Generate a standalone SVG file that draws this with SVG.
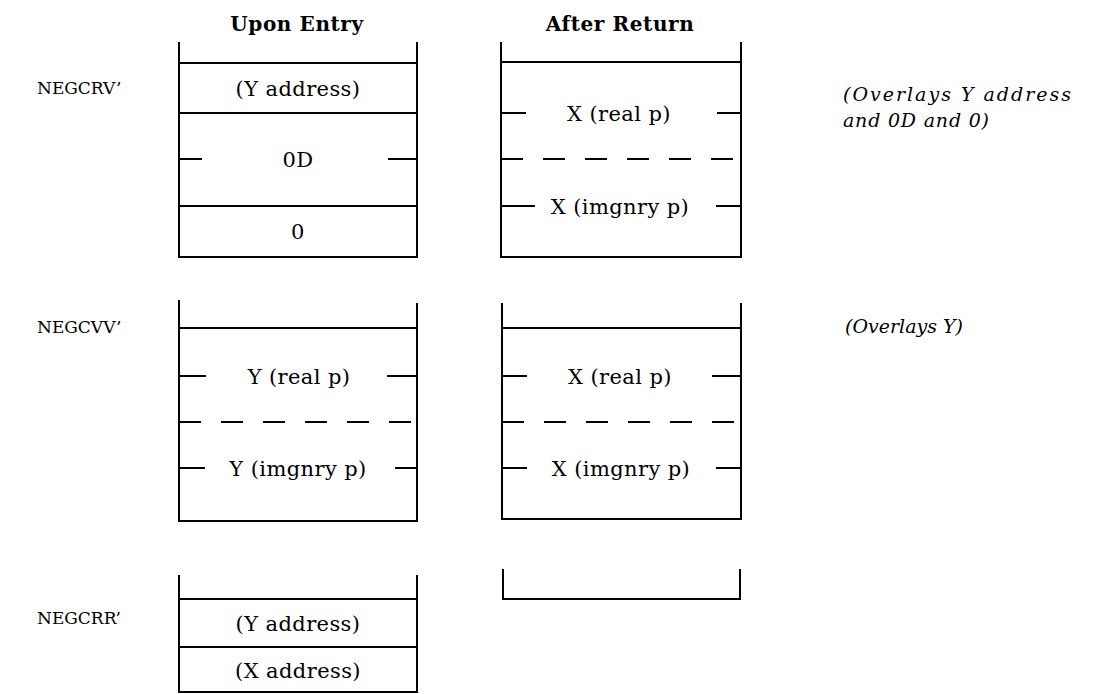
<svg xmlns="http://www.w3.org/2000/svg" width="1098" height="694" viewBox="0 0 1098 694">
<style>
.ln{stroke:#000;stroke-width:2;fill:none;stroke-linecap:butt}
.ds{stroke:#000;stroke-width:2;fill:none;stroke-dasharray:22 20}
.t{font-family:"DejaVu Serif","Liberation Serif",serif;font-size:21px;letter-spacing:0.4px;fill:#000;text-anchor:middle}
.h{font-family:"DejaVu Serif","Liberation Serif",serif;font-size:20px;font-weight:bold;letter-spacing:0.6px;fill:#000;text-anchor:middle}
.lb{font-family:"DejaVu Serif","Liberation Serif",serif;font-size:17px;fill:#000}
.it{font-family:"DejaVu Serif","Liberation Serif",serif;font-size:19px;font-style:italic;fill:#000}
</style>
<rect width="1098" height="694" fill="#fff"/>
<g id="headings">
<text class="h" x="297" y="31">Upon Entry</text>
<text class="h" x="620" y="31">After Return</text>
</g>
<g id="labels">
<text class="lb" x="37" y="94">NEGCRV’</text>
<text class="lb" x="37" y="333">NEGCVV’</text>
<text class="lb" x="37" y="624">NEGCRR’</text>
</g>
<g id="notes">
<text class="it" x="843" y="101" textLength="228" lengthAdjust="spacing">(Overlays Y address</text>
<text class="it" x="843" y="127" textLength="146" lengthAdjust="spacing">and 0D and 0)</text>
<text class="it" x="845" y="333">(Overlays Y)</text>
</g>
<g id="negcrv-entry">
<path class="ln" d="M179,42V258M417,42V258M179,63H417M179,113H417M179,206H417M179,257H417"/>
<path class="ln" d="M179,159H202M388,159H417"/>
<text class="t" x="298" y="96">(Y address)</text>
<text class="t" x="298" y="167">0D</text>
<text class="t" x="298" y="239">0</text>
</g>
<g id="negcrv-return">
<path class="ln" d="M501,42V258M741,42V258M501,62H741M501,257H741"/>
<path class="ds" d="M501,159H741"/>
<path class="ln" d="M501,113H526M717,113H741M501,206H535M716,206H741"/>
<text class="t" x="619" y="121">X (real p)</text>
<text class="t" x="620" y="214">X (imgnry p)</text>
</g>
<g id="negcvv-entry">
<path class="ln" d="M179,300V522M417,303V522M179,328H417M179,521H417"/>
<path class="ds" d="M179,422H417"/>
<path class="ln" d="M179,376H206M387,376H417M179,468H205M395,468H417"/>
<text class="t" x="299" y="384">Y (real p)</text>
<text class="t" x="298" y="476">Y (imgnry p)</text>
</g>
<g id="negcvv-return">
<path class="ln" d="M502,303V520M741,303V520M502,328H741M502,519H741"/>
<path class="ds" d="M502,422H741"/>
<path class="ln" d="M502,376H527M712,376H741M502,468H527M716,468H741"/>
<text class="t" x="620" y="384">X (real p)</text>
<text class="t" x="621" y="476">X (imgnry p)</text>
</g>
<g id="negcrr-return">
<path class="ln" d="M503,569V600M740,569V600M503,599H740"/>
</g>
<g id="negcrr-entry">
<path class="ln" d="M179,575V693M417,575V693M179,599H417M179,647H417M179,692H417"/>
<text class="t" x="298" y="631">(Y address)</text>
<text class="t" x="298" y="678">(X address)</text>
</g>
</svg>
